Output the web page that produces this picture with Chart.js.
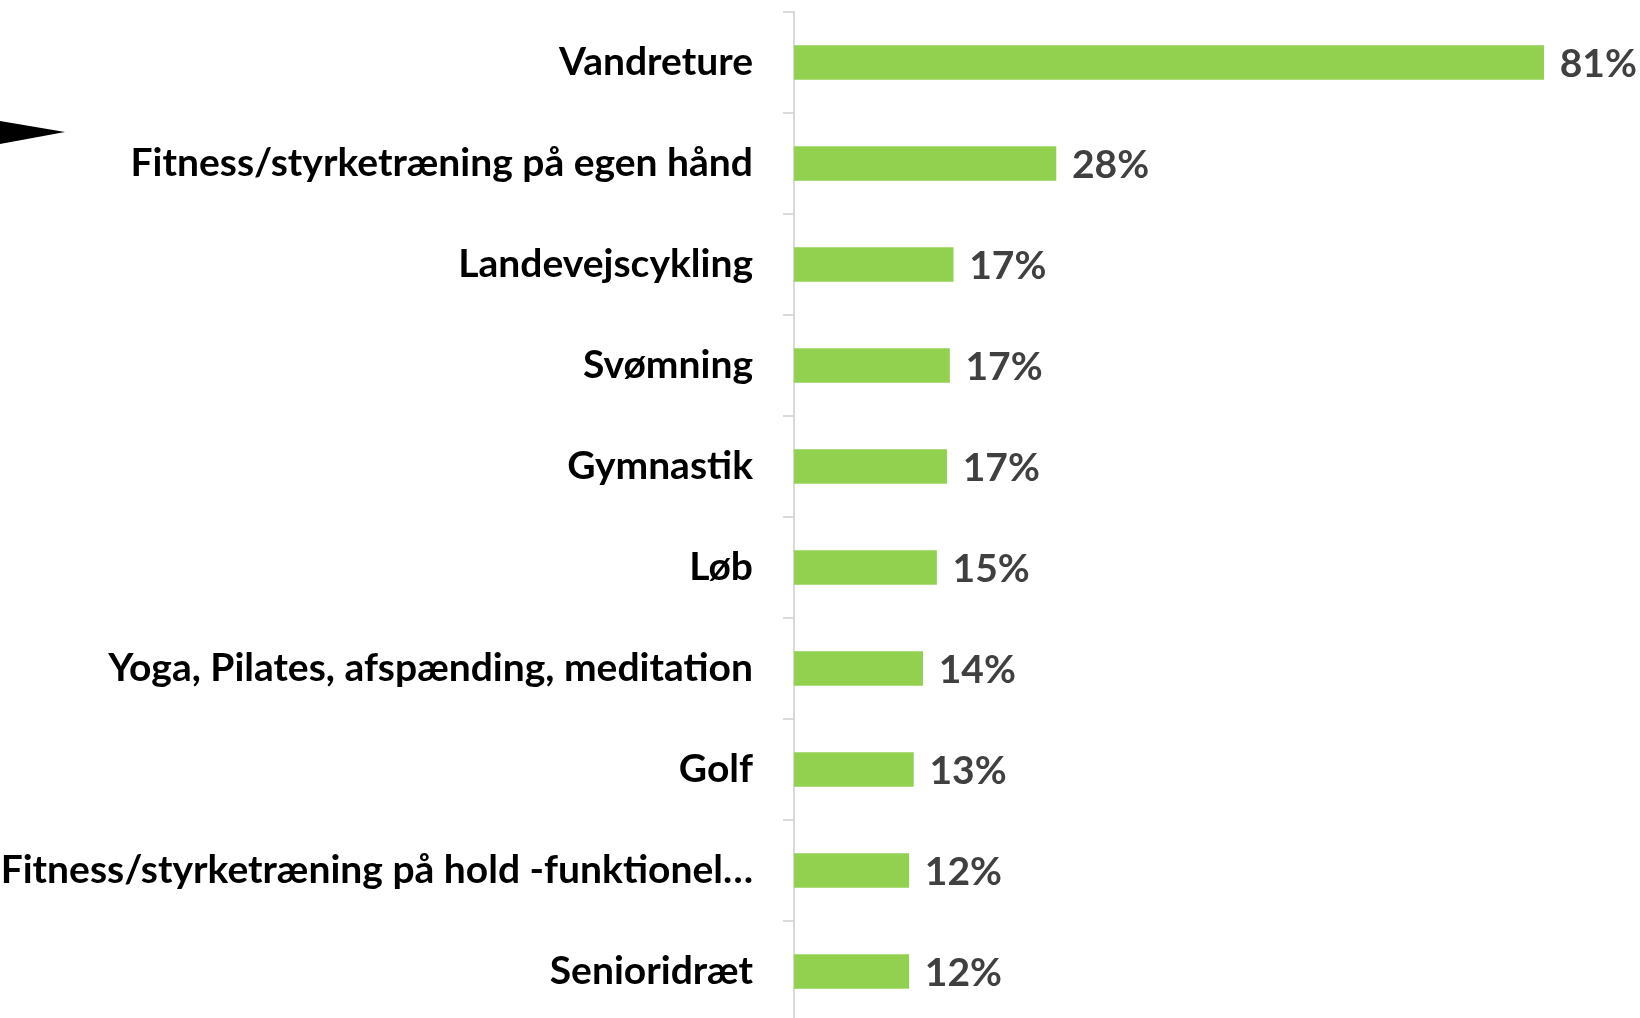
<!DOCTYPE html>
<html>
<head>
<meta charset="utf-8">
<script src="https://cdn.jsdelivr.net/npm/chart.js@4"></script>
<style>
    html, body { margin: 0; padding: 0; background: #fff; width: 1640px; height: 1018px; overflow: hidden; }
    /* a few px taller than the window: the last row is cut at the bottom edge, as in the original */
    #wrap { width: 1640px; height: 1022px; position: relative; }
</style>
</head>
<body>
<div id="wrap"><canvas id="chart"></canvas></div>
<script>
const categories = [
    'Vandreture',
    'Fitness/styrketræning på egen hånd',
    'Landevejscykling',
    'Svømning',
    'Gymnastik',
    'Løb',
    'Yoga, Pilates, afspænding, meditation',
    'Golf',
    'Fitness/styrketræning på hold -funktionel…',
    'Senioridræt'
];
const shares = [81, 28.3, 17.2, 16.8, 16.5, 15.4, 13.9, 12.9, 12.4, 12.4];

const labelFont = { family: 'Lato', size: 39, weight: 'bold' };

// percent labels next to each bar
const valueLabels = {
    id: 'valueLabels',
    afterDatasetsDraw(chart) {
        const ctx = chart.ctx;
        const meta = chart.getDatasetMeta(0);
        ctx.save();
        ctx.font = `bold ${labelFont.size}px ${labelFont.family}`;
        ctx.fillStyle = '#404040';
        ctx.textAlign = 'left';
        ctx.textBaseline = 'middle';
        meta.data.forEach((bar, i) => {
            ctx.fillText(Math.round(shares[i]) + '%', bar.x + 16, bar.y + 2);
        });
        ctx.restore();
    }
};

// the black arrow head cut off at the left edge
const arrowShape = {
    id: 'arrowShape',
    afterDraw(chart) {
        const ctx = chart.ctx;
        ctx.save();
        ctx.fillStyle = '#000';
        ctx.beginPath();
        ctx.moveTo(0, 121);
        ctx.lineTo(65, 132);
        ctx.lineTo(0, 144);
        ctx.closePath();
        ctx.fill();
        ctx.restore();
    }
};

const ctx = document.getElementById('chart').getContext('2d');
new Chart(ctx, {
    type: 'bar',
    data: {
        labels: categories,
        datasets: [{
            data: shares,
            backgroundColor: '#92d050',
            borderWidth: 0,
            barThickness: 34
        }]
    },
    options: {
        indexAxis: 'y',
        responsive: true,
        maintainAspectRatio: false,
        animation: false,
        layout: { padding: { top: 12, right: 13, bottom: 0, left: 0 } },
        plugins: {
            legend: { display: false },
            tooltip: { enabled: false }
        },
        scales: {
            x: {
                display: false,
                min: 0,
                max: 90
            },
            y: {
                afterFit: (scale) => {
                    // fixed label column, no extra room above/below the bars
                    scale.width = 794;
                    scale.paddingTop = 0;
                    scale.paddingBottom = 0;
                },
                border: { display: true, color: '#d9d9d9', width: 2 },
                grid: {
                    offset: true,
                    drawOnChartArea: false,
                    drawTicks: true,
                    tickLength: 11,
                    color: '#d9d9d9',
                    lineWidth: 2
                },
                ticks: {
                    color: '#000',
                    padding: 30,
                    font: labelFont
                }
            }
        }
    },
    plugins: [valueLabels, arrowShape]
});
</script>
</body>
</html>
